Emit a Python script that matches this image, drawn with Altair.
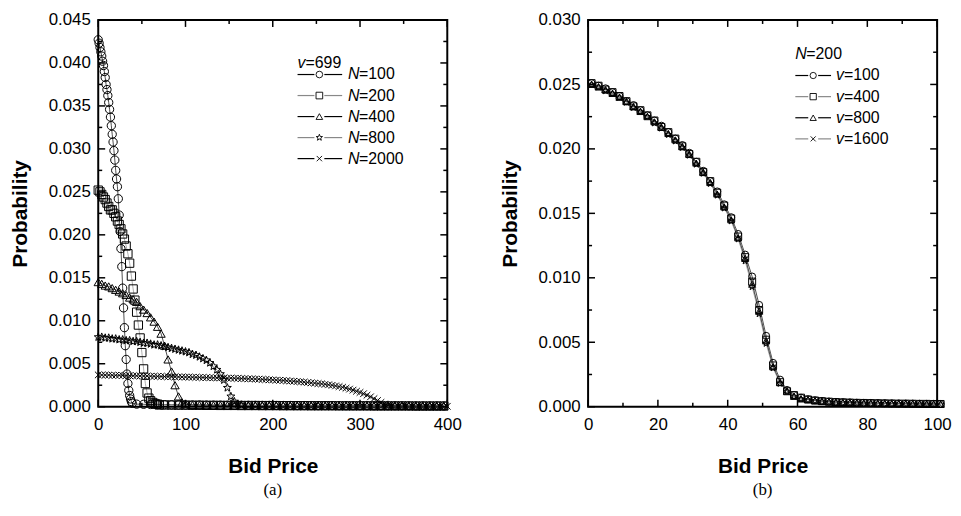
import math
import altair as alt
import pandas as pd

# ------------------------------------------------------------------ data
# (a) v=699, several N
L_SERIES = ["N=100", "N=200", "N=400", "N=800", "N=2000"]

L_X_N100 = list(range(0, 40)) + list(range(44, 400, 8))
L_Y_N100 = [0.0427, 0.0423, 0.0418, 0.0413, 0.0408, 0.0402, 0.0397, 0.0390, 0.0383, 0.0375,
            0.0369, 0.0362, 0.0354, 0.0346, 0.0337, 0.0327, 0.0317, 0.0308, 0.0298, 0.0287,
            0.0275, 0.0265, 0.0256, 0.0242, 0.0223, 0.0204, 0.0184, 0.0163, 0.0138, 0.0115,
            0.0092, 0.0071, 0.0055, 0.0038, 0.0027, 0.0019, 0.0013, 0.0009, 0.0006, 0.0004,
            0.00030, 0.00028, 0.00026, 0.00025, 0.00024, 0.00023, 0.00022, 0.00021, 0.00020, 0.00020,
            0.00019, 0.00018, 0.00018, 0.00017, 0.00017, 0.00016, 0.00016, 0.00015, 0.00015, 0.00015,
            0.00014, 0.00014, 0.00014, 0.00013, 0.00013, 0.00013, 0.00012, 0.00012, 0.00012, 0.00012,
            0.00011, 0.00011, 0.00011, 0.00011, 0.00010, 0.00010, 0.00010, 0.00010, 0.00010, 0.00009,
            0.00009, 0.00009, 0.00009, 0.00009, 0.00008]

L_X_N200 = list(range(0, 71, 2)) + list(range(76, 400, 8))
L_Y_N200 = [0.0252, 0.0250, 0.0247, 0.0244, 0.0241, 0.0237, 0.0233, 0.0229, 0.0229, 0.0225,
            0.0221, 0.0216, 0.0212, 0.0207, 0.0201, 0.0195, 0.0187, 0.0178, 0.0167, 0.0152,
            0.0137, 0.0124, 0.0110, 0.0095, 0.0080, 0.0063, 0.0044, 0.0027, 0.0016, 0.0010,
            0.0007, 0.0005, 0.0004, 0.0003, 0.0003, 0.0002,
            0.00020, 0.00019, 0.00018, 0.00018, 0.00017, 0.00017, 0.00016, 0.00016, 0.00015, 0.00015,
            0.00015, 0.00014, 0.00014, 0.00014, 0.00013, 0.00013, 0.00013, 0.00012, 0.00012, 0.00012,
            0.00012, 0.00011, 0.00011, 0.00011, 0.00011, 0.00010, 0.00010, 0.00010, 0.00010, 0.00010,
            0.00009, 0.00009, 0.00009, 0.00009, 0.00009, 0.00009, 0.00008, 0.00008, 0.00008, 0.00008,
            0.00008]

L_X_N400 = list(range(0, 101, 4)) + list(range(108, 400, 8))
L_Y_N400 = [0.0145, 0.0143, 0.0141, 0.0140, 0.0138, 0.0136, 0.0134, 0.0132, 0.0130, 0.0127,
            0.0125, 0.0122, 0.0117, 0.0113, 0.0109, 0.0104, 0.0099, 0.0093, 0.0085, 0.0071,
            0.0055, 0.0041, 0.0025, 0.0012, 0.0005, 0.0003,
            0.00020, 0.00019, 0.00018, 0.00017, 0.00017, 0.00016, 0.00016, 0.00015, 0.00015, 0.00014,
            0.00014, 0.00014, 0.00013, 0.00013, 0.00013, 0.00012, 0.00012, 0.00012, 0.00011, 0.00011,
            0.00011, 0.00011, 0.00010, 0.00010, 0.00010, 0.00010, 0.00010, 0.00009, 0.00009, 0.00009,
            0.00009, 0.00009, 0.00008, 0.00008, 0.00008, 0.00008, 0.00008]

L_X_N800 = list(range(0, 165, 4)) + list(range(172, 400, 8))
L_Y_N800 = [0.0081, 0.0081, 0.0080, 0.0080, 0.0079, 0.0079, 0.0078, 0.0078, 0.0077, 0.0077,
            0.0076, 0.0076, 0.0075, 0.0074, 0.0074, 0.0073, 0.0072, 0.0072, 0.0071, 0.0070,
            0.0069, 0.0068, 0.0067, 0.0066, 0.0065, 0.0064, 0.0063, 0.0061, 0.0060, 0.0058,
            0.0056, 0.0054, 0.0051, 0.0047, 0.0043, 0.0038, 0.0031, 0.0022, 0.0012, 0.0006,
            0.0003, 0.0002,
            0.00015, 0.00014, 0.00014, 0.00013, 0.00013, 0.00012, 0.00012, 0.00012, 0.00011, 0.00011,
            0.00011, 0.00010, 0.00010, 0.00010, 0.00010, 0.00009, 0.00009, 0.00009, 0.00009, 0.00009,
            0.00008, 0.00008, 0.00008, 0.00008, 0.00008, 0.00007, 0.00007, 0.00007, 0.00007]

L_X_N2000 = list(range(0, 337, 4)) + list(range(344, 401, 8))
L_Y_N2000 = [0.00370, 0.00369, 0.00368, 0.00368, 0.00366, 0.00365, 0.00365, 0.00363, 0.00362, 0.00361,
             0.00360, 0.00360, 0.00358, 0.00357, 0.00357, 0.00355, 0.00354, 0.00353, 0.00352, 0.00351,
             0.00350, 0.00349, 0.00348, 0.00347, 0.00346, 0.00345, 0.00344, 0.00343, 0.00342, 0.00341,
             0.00340, 0.00339, 0.00338, 0.00337, 0.00336, 0.00335, 0.00334, 0.00333, 0.00332, 0.00331,
             0.00330, 0.00328, 0.00327, 0.00325, 0.00323, 0.00322, 0.00320, 0.00318, 0.00316, 0.00314,
             0.00312, 0.00309, 0.00307, 0.00305, 0.00302, 0.00299, 0.00296, 0.00293, 0.00290, 0.00286,
             0.00282, 0.00278, 0.00274, 0.00270, 0.00266, 0.00261, 0.00255, 0.00249, 0.00242, 0.00234,
             0.00226, 0.00216, 0.00205, 0.00193, 0.00180, 0.00166, 0.00151, 0.00134, 0.00115, 0.00094,
             0.00072, 0.00050, 0.00031, 0.00018, 0.00010,
             0.00007, 0.00006, 0.00006, 0.00006, 0.00005, 0.00005, 0.00005, 0.00005]

# (b) N=200, several v
R_SERIES = ["v=100", "v=400", "v=800", "v=1600"]
R_X = list(range(1, 102, 2))
R_Y_V100 = [0.0251, 0.0249, 0.0247, 0.0244, 0.0241, 0.0237, 0.0234, 0.0230, 0.0226, 0.0222,
            0.0218, 0.0213, 0.0208, 0.0203, 0.0197, 0.0190, 0.0183, 0.0175, 0.0167, 0.0157,
            0.0147, 0.0134, 0.0118, 0.0101, 0.0079, 0.0055, 0.0034, 0.0021, 0.0013, 0.0009,
            0.0007, 0.00058, 0.0005, 0.00044, 0.0004, 0.00037, 0.00035, 0.00033, 0.00031, 0.0003,
            0.00029, 0.00028, 0.00027, 0.00026, 0.00025, 0.00024, 0.00024, 0.00023, 0.00022, 0.00022, 0.00021]
R_Y_V400 = [0.0251, 0.0249, 0.0246, 0.0244, 0.0241, 0.0237, 0.0233, 0.0230, 0.0226, 0.0222,
            0.0217, 0.0213, 0.0208, 0.0202, 0.0196, 0.0190, 0.0182, 0.0175, 0.0166, 0.0156,
            0.0146, 0.0132, 0.0116, 0.0097, 0.0075, 0.0052, 0.0032, 0.0019, 0.0012, 0.0009,
            0.0007, 0.00056, 0.00048, 0.00043, 0.00039, 0.00036, 0.00034, 0.00032, 0.0003, 0.00029,
            0.00028, 0.00027, 0.00026, 0.00025, 0.00024, 0.00024, 0.00023, 0.00022, 0.00022, 0.00021, 0.00021]
R_Y_V800 = [0.0250, 0.0248, 0.0246, 0.0243, 0.0240, 0.0237, 0.0233, 0.0229, 0.0225, 0.0221,
            0.0217, 0.0212, 0.0207, 0.0202, 0.0196, 0.0189, 0.0182, 0.0174, 0.0165, 0.0155,
            0.0145, 0.0131, 0.0115, 0.0095, 0.0074, 0.0051, 0.0031, 0.0019, 0.0012, 0.0008,
            0.0006, 0.00055, 0.00047, 0.00042, 0.00038, 0.00035, 0.00033, 0.00031, 0.0003, 0.00028,
            0.00027, 0.00026, 0.00025, 0.00024, 0.00024, 0.00023, 0.00022, 0.00022, 0.00021, 0.00021, 0.0002]
R_Y_V1600 = [0.0250, 0.0248, 0.0245, 0.0243, 0.0240, 0.0236, 0.0232, 0.0229, 0.0225, 0.0220,
             0.0216, 0.0211, 0.0206, 0.0201, 0.0195, 0.0188, 0.0181, 0.0173, 0.0164, 0.0154,
             0.0144, 0.0130, 0.0113, 0.0093, 0.0072, 0.0049, 0.0030, 0.0018, 0.0012, 0.0008,
             0.0006, 0.00053, 0.00046, 0.00041, 0.00037, 0.00034, 0.00032, 0.0003, 0.00029, 0.00027,
             0.00026, 0.00025, 0.00024, 0.00023, 0.00023, 0.00022, 0.00021, 0.00021, 0.0002, 0.0002, 0.00019]

# axis ticks
L_XMAJ = [0, 100, 200, 300, 400]
L_XMIN = [50, 150, 250, 350]
L_YMAJ = [0, 0.005, 0.010, 0.015, 0.020, 0.025, 0.030, 0.035, 0.040, 0.045]
L_YMIN = [0.0025, 0.0075, 0.0125, 0.0175, 0.0225, 0.0275, 0.0325, 0.0375, 0.0425]
R_XMAJ = [0, 20, 40, 60, 80, 100]
R_XMIN = [10, 30, 50, 70, 90]
R_YMAJ = [0, 0.005, 0.010, 0.015, 0.020, 0.025, 0.030]
R_YMIN = [0.0025, 0.0075, 0.0125, 0.0175, 0.0225, 0.0275]

# ------------------------------------------------------------------ styling
FONT = "Liberation Sans"
SERIF = "Liberation Serif"
W, H = 352, 390


def star_path():
    pts = []
    for k in range(10):
        a = math.radians(-90 + 36 * k)
        r = 1.0 if k % 2 == 0 else 0.42
        pts.append(f"{r * math.cos(a):.3f},{r * math.sin(a):.3f}")
    return "M" + "L".join(pts) + "Z"


XPATH = "M-0.8,-0.8L0.8,0.8M-0.8,0.8L0.8,-0.8"
STAR = star_path()


def make_df(series, xs, ys):
    rows = []
    for s, xl, yl in zip(series, xs, ys):
        for xv, yv in zip(xl, yl):
            rows.append({"series": s, "x": xv, "y": yv})
    return pd.DataFrame(rows)


def tick_layers(xe_f, ye_f, xmaj, xmin, ymaj, ymin):
    out = []
    for vals, L in ((xmaj, 7), (xmin, 4)):
        d = pd.DataFrame({"x": vals})
        b = alt.Chart(d).mark_rule(color="black", strokeWidth=1.5)
        out.append(b.encode(x=xe_f(), y=alt.value(H), y2=alt.value(H - L)))
        out.append(b.encode(x=xe_f(), y=alt.value(0), y2=alt.value(L)))
    for vals, L in ((ymaj, 7), (ymin, 4)):
        d = pd.DataFrame({"y": vals})
        b = alt.Chart(d).mark_rule(color="black", strokeWidth=1.5)
        out.append(b.encode(y=ye_f(), x=alt.value(0), x2=alt.value(L)))
        out.append(b.encode(y=ye_f(), x=alt.value(W), x2=alt.value(W - L)))
    return out


DUMMY = pd.DataFrame({"a": [0]})


def legend_layers(head_letter, head_rest, head_y, rows, lx0, lx1, lxm, tx, row_y0, row_dy, letter_w, size):
    out = []
    out.append(alt.Chart(DUMMY).mark_text(font=FONT, fontSize=16, fontStyle="italic", align="left",
                                          baseline="middle", color="black").encode(
        x=alt.value(lx0), y=alt.value(head_y), text=alt.value(head_letter)))
    hw = 11 if head_letter == "N" else 8
    out.append(alt.Chart(DUMMY).mark_text(font=FONT, fontSize=16, align="left", baseline="middle",
                                          color="black").encode(
        x=alt.value(lx0 + hw), y=alt.value(head_y), text=alt.value(head_rest)))
    for i, (shape, lcol, letter, rest) in enumerate(rows):
        yy = row_y0 + i * row_dy
        out.append(alt.Chart(DUMMY).mark_rule(color=lcol, strokeWidth=1.2).encode(
            x=alt.value(lx0), x2=alt.value(lxm - 5), y=alt.value(yy)))
        out.append(alt.Chart(DUMMY).mark_rule(color=lcol, strokeWidth=1.2).encode(
            x=alt.value(lxm + 5), x2=alt.value(lx1), y=alt.value(yy)))
        out.append(alt.Chart(DUMMY).mark_point(filled=False, color="black", opacity=1,
                                               strokeWidth=0.9).encode(
            x=alt.value(lxm), y=alt.value(yy), shape=alt.value(shape), size=alt.value(size)))
        out.append(alt.Chart(DUMMY).mark_text(font=FONT, fontSize=16, fontStyle="italic", align="left",
                                              baseline="middle", color="black").encode(
            x=alt.value(tx), y=alt.value(yy), text=alt.value(letter)))
        out.append(alt.Chart(DUMMY).mark_text(font=FONT, fontSize=16, align="left",
                                              baseline="middle", color="black").encode(
            x=alt.value(tx + letter_w), y=alt.value(yy), text=alt.value(rest)))
    return out


def panel(df, series, shapes, lcolors, xdom, ydom, xmaj, xmin, ymaj, ymin, msize, legend, label):
    def xe():
        return alt.X("x:Q", scale=alt.Scale(domain=xdom, nice=False, zero=False),
                     axis=alt.Axis(values=xmaj, format="d", title="Bid Price", labelFlush=False,
                                   labelPadding=10, titlePadding=23))

    def ye():
        return alt.Y("y:Q", scale=alt.Scale(domain=ydom, nice=False, zero=False),
                     axis=alt.Axis(values=ymaj, format=".3f", title="Probability",
                                   labelPadding=8, titlePadding=18))

    lines = alt.Chart(df).mark_line(strokeWidth=0.7).encode(
        x=xe(), y=ye(),
        color=alt.Color("series:N", scale=alt.Scale(domain=series, range=lcolors), legend=None),
        detail="series:N",
        order="x:Q",
    )
    pts = alt.Chart(df).mark_point(filled=False, opacity=1, strokeWidth=1.0, color="black").encode(
        x=xe(), y=ye(),
        shape=alt.Shape("series:N", scale=alt.Scale(domain=series, range=shapes), legend=None),
        size=alt.value(msize),
    )
    layers = [lines, pts] + tick_layers(xe, ye, xmaj, xmin, ymaj, ymin) + legend
    return alt.layer(*layers).properties(
        width=W, height=H,
        title=alt.TitleParams(text=label, orient="bottom", anchor="middle", frame="group",
                              font=SERIF, fontSize=17, fontWeight="normal", color="black", offset=6),
    )


# ------------------------------------------------------------------ build
df_left = make_df(L_SERIES,
                  [L_X_N100, L_X_N200, L_X_N400, L_X_N800, L_X_N2000],
                  [L_Y_N100, L_Y_N200, L_Y_N400, L_Y_N800, L_Y_N2000])
df_right = make_df(R_SERIES, [R_X] * 4, [R_Y_V100, R_Y_V400, R_Y_V800, R_Y_V1600])

L_SHAPES = ["circle", "square", "triangle-up", STAR, XPATH]
L_LCOL = ["black", "#888888", "black", "#888888", "black"]
R_SHAPES = ["circle", "square", "triangle-up", XPATH]
R_LCOL = ["black", "#888888", "black", "#888888"]

left_legend = legend_layers("v", "=699", 43,
                            [(L_SHAPES[i], L_LCOL[i], "N", L_SERIES[i][1:]) for i in range(5)],
                            201, 246, 223, 252, 55, 21.2, 11, 45)
right_legend = legend_layers("N", "=200", 34,
                             [(R_SHAPES[i], R_LCOL[i], "v", R_SERIES[i][1:]) for i in range(4)],
                             209, 245, 227, 250, 56, 21.3, 8, 40)

left = panel(df_left, L_SERIES, L_SHAPES, L_LCOL, [0, 400], [0, 0.045],
             L_XMAJ, L_XMIN, L_YMAJ, L_YMIN, 70, left_legend, "(a)")
right = panel(df_right, R_SERIES, R_SHAPES, R_LCOL, [0, 100], [0, 0.030],
              R_XMAJ, R_XMIN, R_YMAJ, R_YMIN, 50, right_legend, "(b)")

chart = alt.hconcat(left, right, spacing=35).properties(
    padding={"left": 0, "top": 0, "right": 0, "bottom": 0},
    background="white",
).configure_view(stroke="black", strokeWidth=2).configure_axis(
    labelFont=FONT, titleFont=FONT, labelFontSize=17, titleFontSize=21, titleFontWeight="bold",
    labelColor="black", titleColor="black", grid=False, ticks=False, domain=False,
)

chart.save("out.html", embed_options={"renderer": "svg", "actions": False})
